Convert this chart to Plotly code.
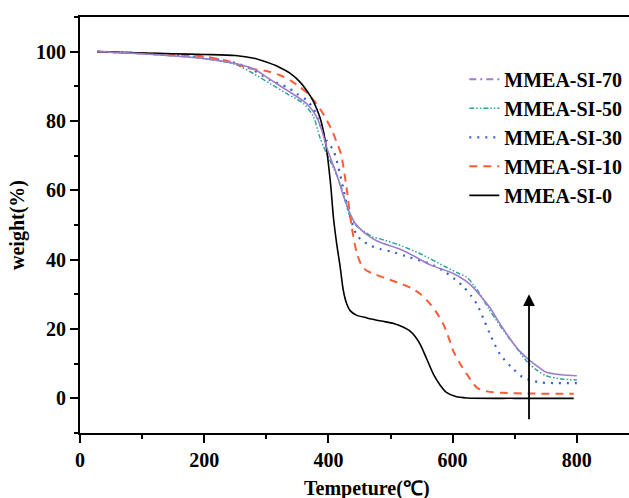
import plotly.graph_objects as go

# ---- data ----
t_s0 = [28, 100, 150, 200, 250, 280, 300, 320, 338, 354, 365, 376, 386, 392, 397, 401, 404, 408, 413, 419, 424, 429, 435, 445, 462, 485, 505, 520, 530, 540, 548, 558, 569, 580, 590, 605, 623, 700, 795]
w_s0 = [100, 99.6, 99.4, 99.2, 98.9, 98.1, 97.0, 95.6, 93.8, 91.3, 88.8, 85.6, 81.2, 77.0, 72.0, 66.0, 60.9, 52.3, 45.0, 37.8, 31.1, 27.5, 25.3, 24.0, 23.2, 22.3, 21.6, 20.6, 19.6, 17.8, 15.5, 11.5, 7.0, 3.8, 1.7, 0.5, 0.1, 0.0, 0.0]

t_s10 = [28, 100, 150, 200, 240, 270, 300, 322, 340, 354, 365, 376, 390, 403, 412, 420, 429, 437, 446, 454, 462, 475, 488, 510, 531, 548, 564, 575, 585, 593, 601, 612, 623, 639, 655, 680, 720, 795]
w_s10 = [100, 99.6, 99.2, 98.6, 97.2, 95.3, 94.4, 93.2, 91.6, 89.8, 88.2, 86.0, 82.5, 78.3, 74.5, 70.6, 61.0, 50.0, 41.7, 38.2, 36.8, 35.8, 34.9, 33.5, 32.0, 30.1, 27.2, 24.5, 21.4, 17.8, 13.7, 10.0, 7.0, 3.1, 2.0, 1.6, 1.4, 1.3]

t_s30 = [28, 100, 150, 200, 250, 279, 306, 333, 349, 365, 376, 386, 397, 408, 419, 427, 435, 446, 457, 467, 483, 502, 525, 548, 564, 585, 604, 617, 630, 639, 650, 660, 676, 698, 714, 741, 770, 800]
w_s30 = [100, 99.5, 99.0, 98.3, 96.8, 94.7, 91.8, 89.8, 87.9, 86.0, 83.5, 79.2, 74.4, 71.5, 64.5, 58.0, 52.3, 47.0, 45.2, 44.1, 43.1, 42.3, 41.0, 39.7, 38.8, 36.8, 34.3, 32.3, 29.5, 27.2, 22.8, 18.6, 12.8, 8.4, 6.0, 4.6, 4.4, 4.4]

t_s50 = [28, 100, 150, 200, 250, 279, 306, 333, 360, 376, 386, 397, 408, 419, 427, 435, 443, 451, 462, 472, 483, 510, 548, 590, 610, 623, 633, 644, 657, 671, 685, 698, 719, 735, 751, 775, 800]
w_s50 = [100, 99.4, 98.8, 98.0, 96.3, 93.7, 90.8, 87.9, 85.0, 81.2, 75.4, 70.6, 66.5, 61.9, 57.0, 52.3, 50.2, 48.9, 47.6, 46.5, 46.0, 44.5, 41.7, 37.8, 36.0, 34.9, 32.8, 30.1, 26.2, 22.4, 18.8, 15.7, 10.8, 8.2, 6.5, 5.6, 5.3]

t_s70 = [28, 100, 150, 200, 250, 279, 306, 333, 365, 381, 390, 397, 405, 413, 424, 435, 443, 451, 462, 472, 483, 521, 564, 601, 620, 633, 645, 660, 673, 687, 705, 725, 740, 751, 775, 800]
w_s70 = [100, 99.4, 98.8, 98.0, 96.6, 95.1, 92.0, 88.9, 85.0, 81.2, 77.0, 72.5, 68.5, 64.8, 58.5, 53.2, 50.5, 48.9, 47.2, 46.0, 45.0, 42.6, 38.5, 36.0, 34.0, 32.0, 29.5, 26.2, 22.4, 18.6, 14.2, 10.8, 8.8, 7.5, 6.8, 6.5]

names = ["MMEA-SI-70", "MMEA-SI-50", "MMEA-SI-30", "MMEA-SI-10", "MMEA-SI-0"]
x_ticks = [0, 200, 400, 600, 800]
y_ticks = [0, 20, 40, 60, 80, 100]
x_title = "Tempeture(℃)"
y_title = "weight(%)"
arrow_x = 723
arrow_y = [-6.5, 30]

FONT = "Liberation Serif"
c70, c50, c30, c10, c0 = "#9d7dcc", "#2fa39a", "#3a5fcd", "#ff5a36", "#000000"
SM = 0.8

fig = go.Figure()
# legend entry for SI-70 (dash-dot sample as in the reference legend)
fig.add_trace(go.Scatter(x=[None], y=[None], mode="lines", name=names[0], legendgroup="g70",
                         line=dict(color=c70, width=2, dash="7px,4px,2px,4px")))
fig.add_trace(go.Scatter(x=t_s50, y=w_s50, mode="lines", name=names[1], legendgroup="g50",
                         line=dict(color=c50, width=1.5, dash="5px,2px,1.5px,2px,1.5px,2px",
                                   shape="spline", smoothing=SM)))
fig.add_trace(go.Scatter(x=t_s30, y=w_s30, mode="lines", name=names[2], legendgroup="g30",
                         line=dict(color=c30, width=2.2, dash="2px,6px", shape="spline", smoothing=SM)))
fig.add_trace(go.Scatter(x=t_s10, y=w_s10, mode="lines", name=names[3], legendgroup="g10",
                         line=dict(color=c10, width=2, dash="8px,6px", shape="spline", smoothing=SM)))
fig.add_trace(go.Scatter(x=t_s0, y=w_s0, mode="lines", name=names[4], legendgroup="g0",
                         line=dict(color=c0, width=1.6, shape="spline", smoothing=SM)))
fig.add_trace(go.Scatter(x=t_s70, y=w_s70, mode="lines", name=names[0], legendgroup="g70", showlegend=False,
                         line=dict(color=c70, width=1.6, shape="spline", smoothing=SM)))

fig.add_annotation(x=arrow_x, y=arrow_y[1], ax=arrow_x, ay=arrow_y[0], xref="x", yref="y",
                   axref="x", ayref="y", showarrow=True, arrowhead=2, arrowsize=1.3,
                   arrowwidth=1.8, arrowcolor="black", text="")

# x-axis title (placed to match the reference, whose plot box is cut off on the right)
fig.add_annotation(text=x_title, xref="paper", yref="paper", x=0.523, y=0, yshift=-55,
                   xanchor="center", yanchor="middle", showarrow=False,
                   font=dict(family=FONT, size=20, color="black", weight="bold"))

axis_common = dict(showline=True, linecolor="black", linewidth=2, ticks="outside", ticklen=8,
                   tickwidth=2, tickcolor="black", showgrid=False, zeroline=False,
                   tickfont=dict(family=FONT, size=20, color="black", weight="bold"))

fig.update_layout(
    width=629, height=498,
    margin=dict(l=80, r=0, t=17, b=65),
    paper_bgcolor="white", plot_bgcolor="white",
    font=dict(family=FONT, color="black"),
    showlegend=True,
    legend=dict(x=0.70, y=0.897, xanchor="left", yanchor="top", bgcolor="rgba(0,0,0,0)",
                font=dict(family=FONT, size=20, color="black", weight="bold"),
                tracegroupgap=3.5, traceorder="normal"),
    xaxis=dict(range=[0, 884], tickvals=x_ticks, mirror=True,
               minor=dict(dtick=100, ticklen=4, tickwidth=2, tickcolor="black", ticks="outside"),
               **axis_common),
    yaxis=dict(range=[-10, 110], tickvals=y_ticks, mirror=False,
               minor=dict(dtick=10, ticklen=4, tickwidth=2, tickcolor="black", ticks="outside"),
               title=dict(text=y_title, font=dict(family=FONT, size=20, color="black", weight="bold"), standoff=6),
               **axis_common),
)

fig.write_html("out.html")
